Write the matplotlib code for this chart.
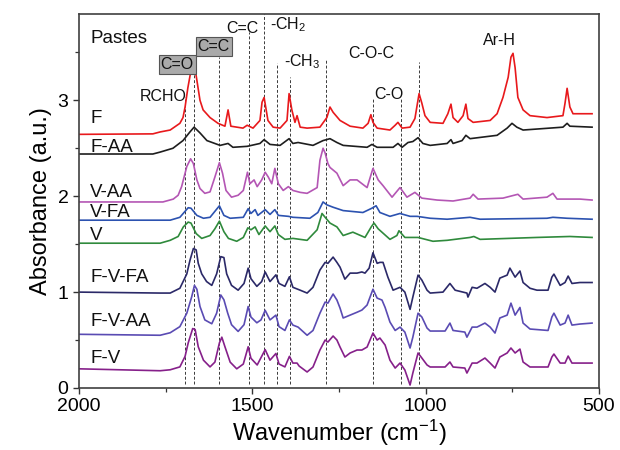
import matplotlib
matplotlib.use("Agg")
import matplotlib.pyplot as plt
from matplotlib.ticker import MultipleLocator

plt.rcParams["font.family"] = ["Liberation Sans", "DejaVu Sans"]
plt.rcParams["mathtext.fontset"] = "custom"
plt.rcParams["mathtext.rm"] = "Liberation Sans"
plt.rcParams["mathtext.it"] = "Liberation Sans:italic"
plt.rcParams["mathtext.bf"] = "Liberation Sans:bold"

# ---- spectra (wavenumber in cm-1, absorbance offset for stacking) ----
F_WN = [2000, 1787, 1766, 1737, 1709, 1700, 1694, 1686, 1677, 1671, 1660, 1651, 1642, 1622, 1599,
        1579, 1570, 1562, 1527, 1515, 1498, 1478, 1472, 1466, 1461, 1455, 1440, 1420, 1400, 1394,
        1386, 1377, 1371, 1362, 1342, 1305, 1285, 1276, 1267, 1247, 1218, 1181, 1166, 1158, 1152,
        1140, 1103, 1088, 1080, 1068, 1045, 1031, 1019, 1011, 1002, 987, 950, 936, 927, 921, 907,
        892, 884, 878, 863, 814, 794, 777, 762, 754, 748, 742, 734, 719, 699, 650, 604, 598, 592,
        584, 575, 520]
F_ABS = [2.645, 2.65, 2.67, 2.69, 2.76, 2.82, 2.93, 3.13, 3.31, 3.46, 3.21, 3.00, 2.90, 2.82, 2.76,
         2.73, 2.90, 2.73, 2.71, 2.74, 2.71, 2.79, 2.98, 3.03, 2.92, 2.79, 2.72, 2.71, 2.79, 3.07,
         2.90, 2.77, 2.84, 2.72, 2.71, 2.72, 2.82, 2.93, 2.875, 2.79, 2.73, 2.71, 2.76, 2.85, 2.77,
         2.71, 2.69, 2.74, 2.77, 2.71, 2.72, 2.81, 3.07, 2.97, 2.84, 2.77, 2.76, 2.86, 2.96, 2.82, 2.77,
         2.84, 2.96, 2.81, 2.77, 2.79, 2.86, 3.03, 3.24, 3.45, 3.49, 3.34, 3.03, 2.90, 2.84, 2.82, 2.84,
         2.97, 3.125, 2.93, 2.86, 2.86]

FAA_WN = [2000, 1787, 1766, 1729, 1700, 1680, 1668, 1651, 1631, 1593, 1570, 1556, 1515, 1478, 1466,
          1449, 1420, 1394, 1383, 1368, 1325, 1296, 1276, 1256, 1238, 1169, 1155, 1140, 1094, 1080,
          1068, 1051, 1037, 1022, 1008, 987, 938, 927, 921, 895, 884, 872, 794, 765, 751, 737, 719,
          604, 592, 584, 520]
FAA_ABS = [2.44, 2.44, 2.46, 2.50, 2.58, 2.67, 2.72, 2.66, 2.58, 2.53, 2.55, 2.51, 2.52, 2.55, 2.59,
           2.54, 2.53, 2.60, 2.55, 2.56, 2.53, 2.58, 2.60, 2.56, 2.53, 2.51, 2.54, 2.51, 2.51, 2.55,
           2.51, 2.56, 2.57, 2.61, 2.55, 2.53, 2.55, 2.59, 2.55, 2.58, 2.635, 2.60, 2.635, 2.71, 2.76,
           2.72, 2.69, 2.72, 2.76, 2.73, 2.72]

VAA_WN = [2000, 1758, 1728, 1714, 1704, 1694, 1689, 1678, 1670, 1660, 1651, 1637, 1622, 1608, 1595,
          1586, 1576, 1560, 1541, 1526, 1514, 1507, 1495, 1486, 1473, 1463, 1454, 1444, 1435, 1425,
          1411, 1396, 1383, 1362, 1342, 1313, 1305, 1296, 1290, 1282, 1276, 1256, 1238, 1218, 1198,
          1169, 1152, 1137, 1123, 1097, 1074, 1054, 1031, 1011, 967, 921, 872, 863, 849, 777, 734,
          719, 650, 633, 621, 555, 520]
VAA_ABS = [1.94, 1.94, 1.97, 2.01, 2.10, 2.24, 2.31, 2.39, 2.34, 2.17, 2.08, 2.03, 2.045, 2.20, 2.35,
           2.24, 2.06, 1.99, 2.01, 2.06, 2.25, 2.13, 2.17, 2.10, 2.17, 2.25, 2.20, 2.13, 2.29, 2.13,
           2.06, 2.10, 2.06, 2.04, 2.03, 2.09, 2.375, 2.50, 2.45, 2.34, 2.30, 2.24, 2.11, 2.17, 2.17,
           2.09, 2.29, 2.17, 2.11, 1.99, 2.09, 1.99, 2.04, 1.98, 1.96, 1.95, 1.98, 2.02, 1.97, 1.98,
           2.02, 1.97, 1.99, 2.03, 1.97, 1.97, 1.96]

VFA_WN = [2000, 1737, 1709, 1685, 1677, 1660, 1641, 1622, 1595, 1582, 1564, 1526, 1512, 1504, 1492,
          1484, 1463, 1449, 1435, 1425, 1396, 1383, 1334, 1311, 1296, 1285, 1267, 1238, 1181, 1155,
          1143, 1132, 1103, 1074, 1045, 1025, 987, 938, 872, 843, 650, 633, 592, 520]
VFA_ABS = [1.75, 1.75, 1.78, 1.88, 1.875, 1.80, 1.77, 1.78, 1.90, 1.80, 1.77, 1.78, 1.87, 1.82, 1.86,
           1.80, 1.86, 1.81, 1.86, 1.80, 1.79, 1.78, 1.77, 1.83, 1.94, 1.91, 1.885, 1.85, 1.83, 1.875,
           1.90, 1.83, 1.79, 1.82, 1.79, 1.79, 1.77, 1.76, 1.78, 1.76, 1.77, 1.78, 1.77, 1.76]

V_WN = [2000, 1766, 1737, 1714, 1699, 1685, 1677, 1662, 1646, 1622, 1608, 1595, 1582, 1569, 1545,
        1526, 1513, 1504, 1492, 1481, 1463, 1449, 1435, 1425, 1406, 1383, 1342, 1313, 1299, 1290,
        1276, 1256, 1238, 1210, 1175, 1157, 1149, 1137, 1103, 1083, 1077, 1060, 1022, 979, 938, 872,
        861, 843, 679, 584, 520]
V_ABS = [1.51, 1.51, 1.54, 1.58, 1.68, 1.73, 1.72, 1.61, 1.56, 1.59, 1.66, 1.74, 1.63, 1.56, 1.53,
         1.57, 1.67, 1.65, 1.68, 1.60, 1.69, 1.63, 1.69, 1.60, 1.55, 1.56, 1.54, 1.65, 1.82, 1.78,
         1.72, 1.68, 1.59, 1.625, 1.57, 1.68, 1.72, 1.66, 1.55, 1.59, 1.64, 1.57, 1.57, 1.53, 1.54, 1.57,
         1.58, 1.55, 1.57, 1.58, 1.57]

FVFA_WN = [2000, 1766, 1737, 1709, 1689, 1680, 1670, 1662, 1656, 1646, 1632, 1617, 1603, 1591, 1582,
           1574, 1560, 1541, 1524, 1512, 1504, 1487, 1473, 1463, 1449, 1432, 1423, 1406, 1393, 1383,
           1362, 1342, 1325, 1305, 1290, 1282, 1267, 1256, 1247, 1233, 1218, 1198, 1184, 1175, 1163,
           1152, 1140, 1132, 1123, 1109, 1094, 1074, 1060, 1045, 1037, 1022, 1011, 996, 987, 950, 930,
           915, 881, 878, 866, 852, 829, 814, 800, 786, 765, 757, 742, 728, 719, 699, 679, 647, 636,
           630, 612, 598, 589, 578, 555, 520]
FVFA_ABS = [1.0, 0.99, 0.99, 1.04, 1.19, 1.33, 1.455, 1.44, 1.30, 1.19, 1.11, 1.07, 1.19, 1.37, 1.36,
            1.19, 1.07, 1.02, 1.09, 1.25, 1.14, 1.06, 1.11, 1.21, 1.11, 1.18, 1.09, 1.06, 1.16, 1.05,
            1.02, 0.99, 1.05, 1.23, 1.31, 1.30, 1.365, 1.31, 1.26, 1.135, 1.198, 1.198, 1.21, 1.198, 1.25,
            1.41, 1.30, 1.31, 1.31, 1.156, 1.02, 1.05, 1.0, 0.82, 0.948, 1.177, 1.125, 1.02, 0.99, 1.0, 1.09,
            1.02, 0.99, 0.948, 1.05, 1.04, 1.09, 1.05, 1.0, 1.146, 1.177, 1.25, 1.156, 1.22, 1.10, 1.04,
            1.02, 1.02, 1.156, 1.1875, 1.07, 1.10, 1.167, 1.09, 1.10, 1.10]

FVAA_WN = [2000, 1766, 1737, 1709, 1689, 1675, 1667, 1660, 1651, 1637, 1617, 1603, 1591, 1582, 1571,
           1560, 1541, 1524, 1512, 1504, 1487, 1475, 1463, 1449, 1432, 1423, 1406, 1393, 1383, 1368,
           1342, 1325, 1305, 1290, 1282, 1267, 1256, 1247, 1238, 1218, 1198, 1184, 1169, 1152, 1140,
           1126, 1117, 1103, 1088, 1074, 1060, 1045, 1037, 1022, 1011, 996, 987, 944, 930, 921, 887,
           881, 866, 852, 829, 814, 800, 786, 765, 754, 742, 728, 719, 699, 647, 636, 630, 612, 598,
           589, 578, 555, 520]
FVAA_ABS = [0.56, 0.55, 0.576, 0.64, 0.78, 0.95, 1.07, 1.03, 0.85, 0.71, 0.67, 0.78, 0.97, 0.92, 0.78,
            0.66, 0.59, 0.66, 0.85, 0.74, 0.68, 0.71, 0.81, 0.71, 0.76, 0.64, 0.60, 0.71, 0.656, 0.635,
            0.55, 0.60, 0.78, 0.896, 0.885, 0.98, 0.917, 0.833, 0.73, 0.76, 0.79, 0.8125, 0.865, 1.03, 0.9375,
            0.917, 0.84, 0.6875, 0.60, 0.635, 0.583, 0.417, 0.53, 0.78, 0.74, 0.625, 0.594, 0.594, 0.677,
            0.60, 0.583, 0.53, 0.635, 0.635, 0.677, 0.635, 0.573, 0.73, 0.76, 0.885, 0.76, 0.84, 0.677,
            0.615, 0.60, 0.74, 0.78, 0.656, 0.677, 0.76, 0.656, 0.667, 0.677]

FV_WN = [2000, 1766, 1737, 1709, 1694, 1685, 1672, 1665, 1656, 1641, 1622, 1608, 1595, 1588, 1579,
         1564, 1545, 1526, 1512, 1504, 1486, 1463, 1449, 1432, 1423, 1406, 1393, 1383, 1371, 1365,
         1342, 1325, 1305, 1290, 1282, 1267, 1256, 1247, 1233, 1218, 1198, 1184, 1169, 1152, 1140,
         1132, 1117, 1103, 1088, 1074, 1060, 1045, 1037, 1022, 1011, 996, 987, 944, 930, 921, 887,
         881, 866, 852, 829, 814, 800, 786, 765, 754, 742, 728, 719, 699, 647, 636, 630, 612, 598,
         589, 578, 555, 520]
FV_ABS = [0.20, 0.18, 0.19, 0.22, 0.33, 0.47, 0.62, 0.61, 0.43, 0.29, 0.22, 0.27, 0.47, 0.53, 0.43,
          0.27, 0.20, 0.25, 0.43, 0.31, 0.24, 0.40, 0.29, 0.36, 0.25, 0.22, 0.33, 0.26, 0.26, 0.229,
          0.167, 0.219, 0.396, 0.5, 0.479, 0.542, 0.5, 0.427, 0.323, 0.365, 0.396, 0.396, 0.427, 0.573,
          0.5, 0.521, 0.448, 0.29, 0.208, 0.26, 0.1875, 0.031, 0.156, 0.365, 0.3125, 0.24, 0.219, 0.219,
          0.271, 0.219, 0.208, 0.156, 0.26, 0.26, 0.3125, 0.26, 0.208, 0.323, 0.365, 0.417, 0.365, 0.406,
          0.271, 0.219, 0.219, 0.323, 0.354, 0.26, 0.26, 0.333, 0.26, 0.26, 0.26]

SERIES_NAMES = ["F", "F-AA", "V-AA", "V-FA", "V", "F-V-FA", "F-V-AA", "F-V"]
SERIES_WN = [F_WN, FAA_WN, VAA_WN, VFA_WN, V_WN, FVFA_WN, FVAA_WN, FV_WN]
SERIES_ABS = [F_ABS, FAA_ABS, VAA_ABS, VFA_ABS, V_ABS, FVFA_ABS, FVAA_ABS, FV_ABS]
SERIES_COLORS = ["#e8191c", "#1e1e1e", "#b456b4", "#2c52b0", "#2f8a3c", "#2b2968", "#5a4bb3", "#86208a"]
LABEL_Y = [2.81, 2.51, 2.04, 1.83, 1.59, 1.15, 0.69, 0.31]

# ---- band assignments: marker lines ----
BAND_WN = [1694, 1667, 1595, 1510, 1465, 1430, 1390, 1288, 1153, 1072, 1018]
BAND_TOP = [3.03, 3.31, 3.45, 3.71, 3.90, 3.39, 3.24, 3.43, 3.01, 3.01, 3.40]

fig = plt.figure(figsize=(6.2, 4.5), dpi=100)
ax = fig.add_axes([79 / 620, 62 / 450, 520 / 620, 374 / 450])

for wn, top in zip(BAND_WN, BAND_TOP):
    ax.plot([wn, wn], [0.04, top], color="#3a3a3a", lw=0.7, ls=(0, (3, 2)), zorder=1)

for wn, ab, col in zip(SERIES_WN, SERIES_ABS, SERIES_COLORS):
    ax.plot(wn, ab, color=col, lw=1.2, solid_joinstyle="round", zorder=2)

for name, y in zip(SERIES_NAMES, LABEL_Y):
    ax.text(1968, y, name, fontsize=13.5, ha="left", va="center", color="#111111")

ax.text(1968, 3.64, "Pastes", fontsize=13.5, ha="left", va="center", color="#111111")

ann_kw = dict(fontsize=11.5, color="#111111", va="center")
box = dict(boxstyle="square,pad=0.12", fc="#aaaaaa", ec="#555555", lw=0.8)
ax.text(1717, 3.375, "C=O", ha="center", bbox=box, **ann_kw)
ax.text(1611, 3.56, "C=C", ha="center", bbox=box, **ann_kw)
ax.text(1756, 3.04, "RCHO", ha="center", **ann_kw)
ax.text(1528, 3.75, "C=C", ha="center", **ann_kw)
ax.text(1449, 3.79, "-CH$_2$", ha="left", **ann_kw)
ax.text(1409, 3.40, "-CH$_3$", ha="left", **ann_kw)
ax.text(1156, 3.49, "C-O-C", ha="center", **ann_kw)
ax.text(1106, 3.06, "C-O", ha="center", **ann_kw)
ax.text(787, 3.625, "Ar-H", ha="center", **ann_kw)

ax.set_xlim(2000, 500)
ax.set_ylim(0, 3.9)
ax.xaxis.set_major_locator(MultipleLocator(500))
ax.xaxis.set_minor_locator(MultipleLocator(250))
ax.yaxis.set_major_locator(MultipleLocator(1))
ax.yaxis.set_minor_locator(MultipleLocator(0.5))
ax.tick_params(which="both", direction="out", top=False, right=False, color="#333333")
ax.tick_params(which="major", length=4, width=1.0, labelsize=14)
ax.tick_params(which="minor", length=3, width=0.9)
for sp in ax.spines.values():
    sp.set_color("#404040")
    sp.set_linewidth(1.2)

ax.set_xlabel("Wavenumber (cm$^{-1}$)", fontsize=17, labelpad=2)
ax.set_ylabel("Absorbance (a.u.)", fontsize=17, labelpad=4)

fig.savefig("out.png", dpi=100)
